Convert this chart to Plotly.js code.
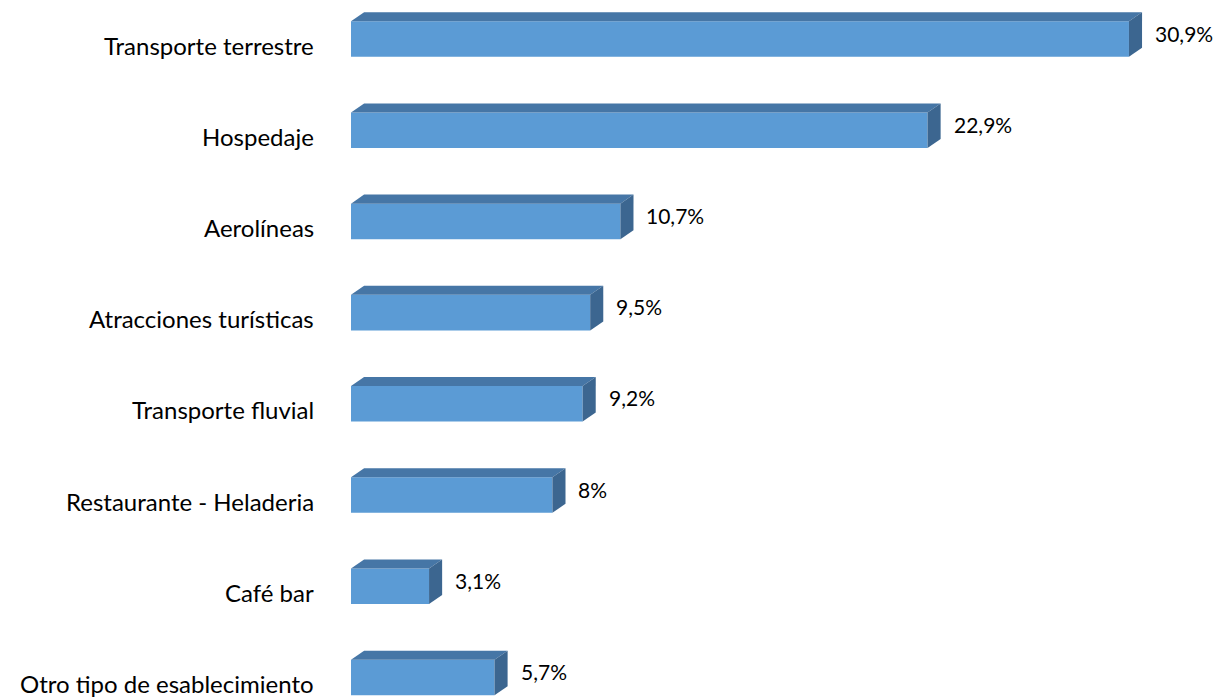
<!DOCTYPE html>
<html>
<head>
<meta charset="utf-8">
<script src="https://cdn.plot.ly/plotly-3.0.1.min.js"></script>
<style>html,body{margin:0;padding:0;background:#fff;}#chart{width:1219px;height:697px;}</style>
</head>
<body>
<div id="chart"></div>
<script>
const categories = [
  "Transporte terrestre",
  "Hospedaje",
  "Aerolíneas",
  "Atracciones turísticas",
  "Transporte fluvial",
  "Restaurante - Heladeria",
  "Café bar",
  "Otro tipo de esablecimiento"
];
const values = [30.9, 22.9, 10.7, 9.5, 9.2, 8, 3.1, 5.7];
const valueLabels = ["30,9%", "22,9%", "10,7%", "9,5%", "9,2%", "8%", "3,1%", "5,7%"];

const positions = categories.map((c, i) => i);
const barW = 0.39;     // category units
const depthX = 0.52;   // % units (3D depth)
const depthY = 0.099;  // category units (3D depth)

const shapes = [];
values.forEach((v, i) => {
  const yt = i - barW / 2, yb = i + barW / 2, yu = yt - depthY;
  shapes.push({
    type: 'path', xref: 'x', yref: 'y', layer: 'above',
    path: `M 0,${yt} L ${v},${yt} L ${v + depthX},${yu} L ${depthX},${yu} Z`,
    fillcolor: '#4676A6', line: {width: 0}
  });
  shapes.push({
    type: 'path', xref: 'x', yref: 'y', layer: 'above',
    path: `M ${v},${yt} L ${v + depthX},${yu} L ${v + depthX},${yb - depthY} L ${v},${yb} Z`,
    fillcolor: '#3C6690', line: {width: 0}
  });
});

const valueAnnotations = values.map((v, i) => ({
  x: v, y: i, xref: 'x', yref: 'y', text: valueLabels[i],
  showarrow: false, xanchor: 'left', yanchor: 'middle',
  xshift: 24, yshift: 6,
  font: {family: 'Lato, sans-serif', size: 21, color: '#000'}
}));

const categoryAnnotations = categories.map((c, i) => ({
  x: 0, y: i, xref: 'paper', yref: 'y', text: c,
  showarrow: false, xanchor: 'right', yanchor: 'middle',
  xshift: -35, yshift: -6,
  font: {family: 'Lato, sans-serif', size: 24, color: '#000'}
}));

const trace = {
  type: 'bar', orientation: 'h',
  x: values, y: positions, width: barW,
  marker: {color: '#5B9BD5', line: {width: 0}},
  hoverinfo: 'skip'
};

const layout = {
  width: 1219, height: 697,
  margin: {l: 351, r: 12, t: 0, b: 0},
  paper_bgcolor: '#fff', plot_bgcolor: '#fff',
  showlegend: false,
  xaxis: {range: [0, 34], showgrid: false, zeroline: false, showline: false,
          showticklabels: false, ticks: ''},
  yaxis: {range: [7.2144, -0.4276], tickvals: positions, showticklabels: false,
          showgrid: false, zeroline: false, showline: false, ticks: ''},
  shapes: shapes,
  annotations: categoryAnnotations.concat(valueAnnotations)
};

Plotly.newPlot('chart', [trace], layout, {displayModeBar: false, staticPlot: true});
</script>
</body>
</html>
